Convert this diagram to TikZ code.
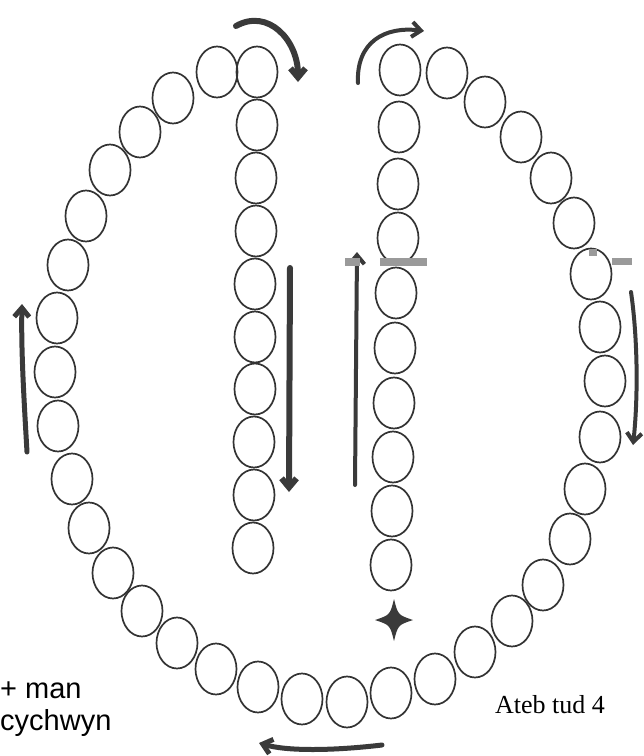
\documentclass[tikz,border=0pt]{standalone}
\usepackage{fontspec}
\setmainfont{Liberation Serif}
\newfontfamily\labelsans{Liberation Sans}
\usetikzlibrary{shapes.geometric,arrows.meta}
\definecolor{ink}{HTML}{333333}
\definecolor{arrowink}{HTML}{3A3A3A}
\definecolor{smudge}{HTML}{9A9A9A}
\tikzset{
  bead/.style={ellipse,draw=ink,line width=1.7pt,minimum width=41pt,minimum height=51pt,inner sep=0pt},
  fatarrow/.style={draw=arrowink,line width=#1,line cap=round,-{Straight Barb[length=9pt,width=15pt,line width=#1]}},
  fatarrow/.default=5pt,
  sanslabel/.style={font=\labelsans\fontsize{29}{30}\selectfont,anchor=base west,inner sep=0pt},
  seriflabel/.style={font=\fontsize{26}{28}\selectfont,anchor=base west,inner sep=0pt}
}
\begin{document}
\begin{tikzpicture}[x=1pt,y=-1pt]
\useasboundingbox (0,0) rectangle (644,756);
% left outer arc
\foreach \n/\x/\y in {0/217/72,1/173/98,2/140/132,3/110/170,4/86/216,5/68/265,6/57/318,7/55/372,8/58/426,9/72/479,10/89/528,11/113/573,12/142/611,13/177/643,14/216/669,15/258/687,16/302/699}
  \node[bead] (L\n) at (\x,\y) {};
% right outer arc
\foreach \n/\x/\y in {0/447/73,1/485/102,2/521/137,3/551/178,4/574/223,5/591/274,6/600/327,7/605/381,8/600/437,9/585/489,10/570/539,11/543/585,12/512/621,13/475/652,14/435/679,15/391/693,16/347/702}
  \node[bead] (R\n) at (\x,\y) {};
% left inner column
\foreach \n/\x/\y in {0/257/72,1/257/125,2/256/178,3/256/231,4/255/284,5/255/337,6/255/389,7/254/442,8/254/495,9/253/548}
  \node[bead] (A\n) at (\x,\y) {};
% right inner column
\foreach \n/\x/\y in {0/400/70,1/399/127,2/398/184,3/398/238,4/396/293,5/395/348,6/394/403,7/393/457,8/392/511,9/391/565}
  \node[bead] (B\n) at (\x,\y) {};
% star
\coordinate (st) at (394,620);
\begin{scope}[shift={(st)}]
  \fill[arrowink] (0,-21) .. controls (4,-5) .. (19,0) .. controls (4,5) .. (0,21)
     .. controls (-4,5) .. (-19,0) .. controls (-4,-5) .. cycle;
\end{scope}
% arrows
\coordinate (a1s) at (236,26); \coordinate (a1e) at (298,82);
\draw[fatarrow=6pt] (a1s) .. controls (268,8) and (298,40) .. (a1e);
\coordinate (a2s) at (358,83); \coordinate (a2e) at (424,31);
\draw[fatarrow=4pt] (a2s) .. controls (356,42) and (385,26) .. (a2e);
\coordinate (a3s) at (290,268); \coordinate (a3e) at (289,492);
\draw[fatarrow=6pt] (a3s) -- (a3e);
\coordinate (a4s) at (355,485); \coordinate (a4e) at (357,252);
\draw[fatarrow=4pt] (a4s) -- (a4e);
\coordinate (a5s) at (27,452); \coordinate (a5e) at (22,304);
\draw[fatarrow=5pt] (a5s) .. controls (24,400) and (21,350) .. (a5e);
\coordinate (a6s) at (631,292); \coordinate (a6e) at (633,445);
\draw[fatarrow=4pt] (a6s) .. controls (638,340) and (638,400) .. (a6e);
\coordinate (a7s) at (382,745); \coordinate (a7e) at (259,743);
\draw[fatarrow=5pt] (a7s) .. controls (340,750) and (290,752) .. (a7e);
% grey smudges
\fill[smudge] (345,258) rectangle (360,266);
\fill[smudge] (380,258) rectangle (427,266);
\fill[smudge] (589,249) rectangle (597,256);
\fill[smudge] (612,258) rectangle (632,265);
% labels
\node[sanslabel] (t1) at (0,698) {+ man};
\node[sanslabel] (t1b) at (0,730) {cychwyn};
\node[seriflabel] (t2) at (495,713) {Ateb tud 4};
\end{tikzpicture}
\end{document}
